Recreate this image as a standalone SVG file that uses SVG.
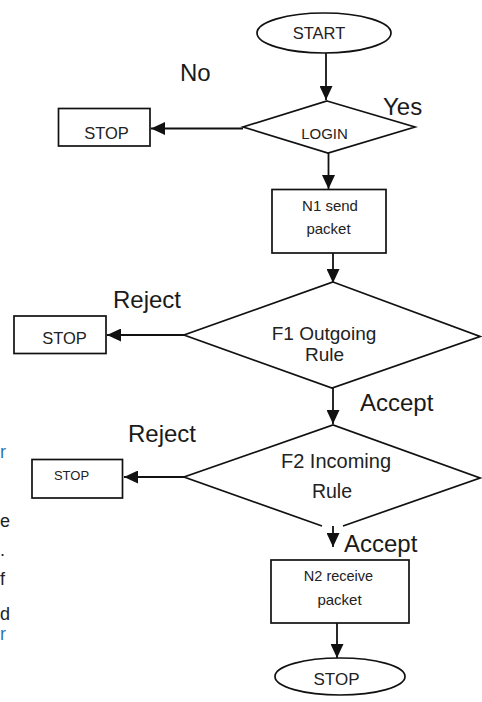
<svg xmlns="http://www.w3.org/2000/svg" width="482" height="702" viewBox="0 0 482 702">
  <style>
    .shape { fill: #fff; stroke: #111; stroke-width: 1.7; }
    .edge { fill: none; stroke: #111; stroke-width: 1.8; }
    .t { font-family: "Liberation Sans", Arial, sans-serif; fill: #222; text-anchor: middle; }
    .lbl { font-family: "Liberation Sans", Arial, sans-serif; fill: #1a1a1a; font-size: 24px; }
    .frag { font-family: "Liberation Sans", Arial, sans-serif; font-size: 18px; }
  </style>
  <defs>
    <marker id="arr" markerUnits="userSpaceOnUse" markerWidth="14" markerHeight="13" refX="14" refY="6.5" orient="auto">
      <path d="M0,0 L14,6.5 L0,13 z" fill="#111"/>
    </marker>
  </defs>
  <rect width="482" height="702" fill="#fff"/>

  <g id="connectors">
    <line class="edge" x1="326" y1="53" x2="326" y2="100" marker-end="url(#arr)"/>
    <line class="edge" x1="243" y1="128.5" x2="151" y2="128.5" marker-end="url(#arr)"/>
    <line class="edge" x1="328.5" y1="153" x2="328.5" y2="189" marker-end="url(#arr)"/>
    <line class="edge" x1="333" y1="253" x2="333" y2="283" marker-end="url(#arr)"/>
    <line class="edge" x1="184" y1="335" x2="107" y2="335" marker-end="url(#arr)"/>
    <line class="edge" x1="333" y1="388" x2="333" y2="424" marker-end="url(#arr)"/>
    <line class="edge" x1="184" y1="477" x2="124" y2="477" marker-end="url(#arr)"/>
    <line class="edge" x1="333" y1="522" x2="333" y2="547" marker-end="url(#arr)"/>
    <line class="edge" x1="337" y1="623" x2="337" y2="658" marker-end="url(#arr)"/>
  </g>

  <g id="start">
    <ellipse class="shape" cx="324" cy="33" rx="67" ry="20"/>
    <text class="t" x="319" y="39" font-size="16.5">START</text>
  </g>

  <g id="login">
    <polygon class="shape" points="327,101 415,127 328,153 243,127"/>
    <text class="t" x="324.5" y="139" font-size="15">LOGIN</text>
  </g>

  <g id="stop1">
    <rect class="shape" x="58.5" y="108.5" width="91.5" height="37.5"/>
    <text class="t" x="106.5" y="139" font-size="16.5">STOP</text>
  </g>

  <g id="n1">
    <rect class="shape" x="272" y="189.5" width="114" height="63.5"/>
    <text class="t" x="330" y="211" font-size="15">N1 send</text>
    <text class="t" x="328.5" y="234" font-size="15">packet</text>
  </g>

  <g id="f1">
    <polygon class="shape" points="333,282 480,336.5 332,388 184,335"/>
    <text class="t" x="324" y="339.5" font-size="19">F1 Outgoing</text>
    <text class="t" x="324.5" y="361" font-size="19">Rule</text>
  </g>

  <g id="stop2">
    <rect class="shape" x="14" y="316" width="92" height="37.5"/>
    <text class="t" x="64.5" y="344" font-size="16.5">STOP</text>
  </g>

  <g id="f2">
    <path class="shape" d="M322,526 L184,477 L333,425 L480,478 L343,526" fill="#fff"/>
    <text class="t" x="336" y="468" font-size="20">F2 Incoming</text>
    <text class="t" x="332" y="497.5" font-size="19.5">Rule</text>
  </g>

  <g id="stop3">
    <rect class="shape" x="32" y="459.5" width="90.5" height="38.5"/>
    <text class="t" x="71.5" y="480" font-size="13">STOP</text>
  </g>

  <g id="n2">
    <rect class="shape" x="271" y="560" width="138" height="63"/>
    <text class="t" x="338.5" y="581" font-size="14.5">N2 receive</text>
    <text class="t" x="339.5" y="605" font-size="15">packet</text>
  </g>

  <g id="stop-end">
    <ellipse class="shape" cx="340" cy="676.5" rx="65" ry="18.5"/>
    <text class="t" x="336.5" y="685" font-size="17">STOP</text>
  </g>

  <g id="labels">
    <text class="lbl" x="180" y="81">No</text>
    <text class="lbl" x="383" y="114.5">Yes</text>
    <text class="lbl" x="113" y="308">Reject</text>
    <text class="lbl" x="360" y="410.5">Accept</text>
    <text class="lbl" x="128" y="442">Reject</text>
    <text class="lbl" x="344" y="551.5">Accept</text>
  </g>

  <g id="fragments">
    <text class="frag" x="0" y="458" fill="#2e75b6">r</text>
    <text class="frag" x="0" y="527" fill="#222">e</text>
    <text class="frag" x="0" y="556" fill="#222">.</text>
    <text class="frag" x="0" y="585" fill="#222">f</text>
    <text class="frag" x="0" y="620" fill="#222">d</text>
    <text class="frag" x="0" y="640" fill="#2e75b6">r</text>
  </g>
</svg>
